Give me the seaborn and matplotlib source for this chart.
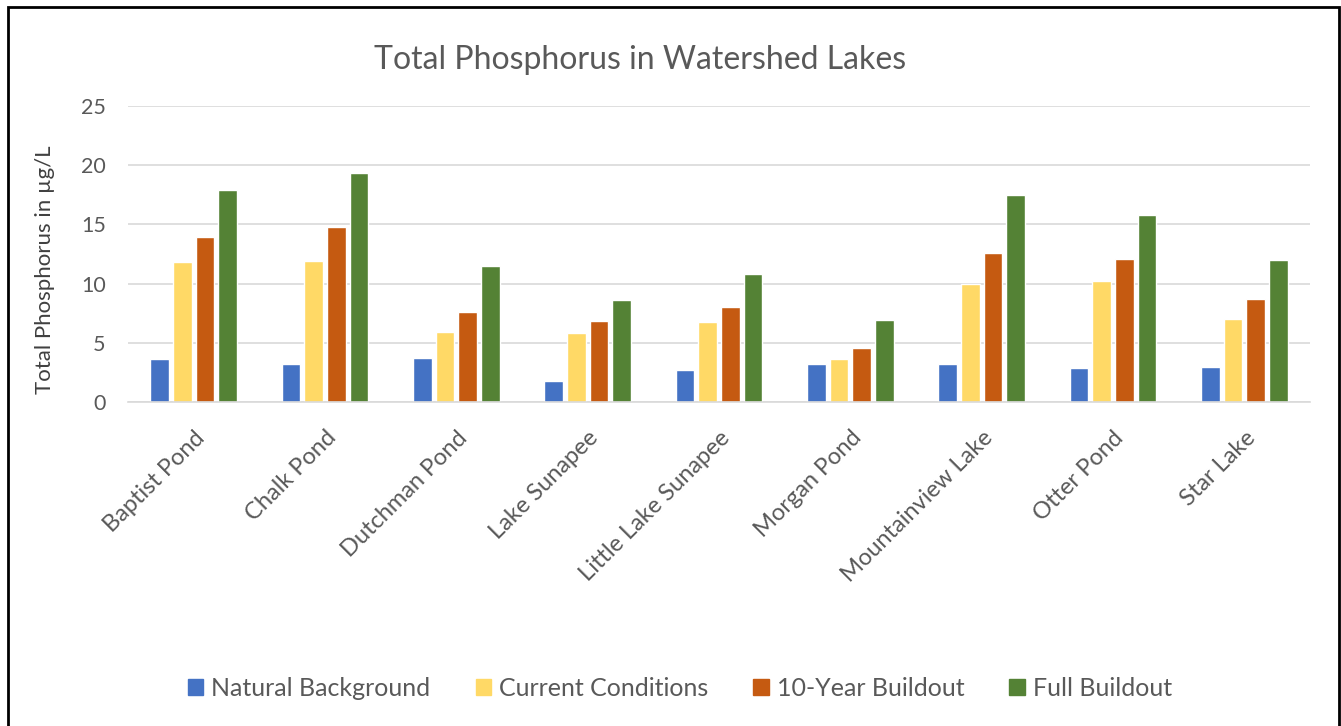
import pandas as pd
import numpy as np
import matplotlib.pyplot as plt
import seaborn as sns
from matplotlib.patches import Rectangle

# data
lakes = ["Baptist Pond", "Chalk Pond", "Dutchman Pond", "Lake Sunapee",
         "Little Lake Sunapee", "Morgan Pond", "Mountainview Lake",
         "Otter Pond", "Star Lake"]
natural_background = [3.6, 3.2, 3.7, 1.8, 2.7, 3.2, 3.2, 2.85, 2.95]
current_conditions = [11.8, 11.9, 5.9, 5.85, 6.75, 3.6, 10.0, 10.25, 7.0]
ten_year_buildout = [13.9, 14.75, 7.6, 6.8, 8.05, 4.6, 12.55, 12.05, 8.7]
full_buildout = [17.9, 19.3, 11.45, 8.65, 10.8, 6.9, 17.45, 15.8, 12.0]

scenarios = ["Natural Background", "Current Conditions", "10-Year Buildout", "Full Buildout"]
colors = ["#4472C4", "#FFD966", "#C55A11", "#548235"]

df = pd.DataFrame({"lake": lakes,
                   scenarios[0]: natural_background,
                   scenarios[1]: current_conditions,
                   scenarios[2]: ten_year_buildout,
                   scenarios[3]: full_buildout})
df = df.melt(id_vars="lake", var_name="scenario", value_name="tp")

sns.set_style("white")
plt.rcParams["font.family"] = ["Lato", "DejaVu Sans"]

fig = plt.figure(figsize=(13.41, 7.26), dpi=100)
ax = fig.add_axes([128 / 1341, 1 - 402 / 726, (1310 - 128) / 1341, (402 - 106) / 726])

sns.barplot(data=df, x="lake", y="tp", hue="scenario", hue_order=scenarios,
            palette=colors, width=0.69, gap=0.18, saturation=1, ax=ax,
            legend=False)

ax.set_ylim(0, 25)
ax.set_yticks(range(0, 26, 5))
ax.yaxis.grid(True, color="#D9D9D9", linewidth=1.2)
ax.set_axisbelow(True)
for s in ["top", "right", "left"]:
    ax.spines[s].set_visible(False)
ax.spines["bottom"].set_color("#D9D9D9")
ax.spines["bottom"].set_linewidth(1.2)
ax.tick_params(axis="both", length=0, colors="#595959")
ax.tick_params(axis="y", pad=16, labelsize=15.5)
ax.tick_params(axis="x", pad=18, labelsize=17)
ax.set_xlabel("")
ax.set_ylabel("Total Phosphorus in µg/L", fontsize=16, color="#404040")
ax.yaxis.set_label_coords(-73 / 1182, (402 - 270) / 296)
plt.setp(ax.get_xticklabels(), rotation=45, ha="right", rotation_mode="anchor")

fig.text(640 / 1341, 1 - 60 / 726, "Total Phosphorus in Watershed Lakes",
         ha="center", va="center", fontsize=23, color="#595959")

handles = [Rectangle((0, 0), 1, 1, color=c) for c in colors]
fig.legend(handles, scenarios, loc="center", ncol=4, frameon=False,
           bbox_to_anchor=(680 / 1341, 1 - 688 / 726), fontsize=18,
           handlelength=0.62, handleheight=0.62, handletextpad=0.32,
           columnspacing=1.8, labelcolor="#595959")

# outer frame of the chart (bottom edge runs off the image)
fig.patches.append(Rectangle((7.5 / 1341, -0.05), (1339 - 7.5) / 1341, 1.05 - 7.5 / 726,
                             transform=fig.transFigure, fill=False,
                             edgecolor="black", linewidth=2))

fig.savefig("out.png", dpi=100)
